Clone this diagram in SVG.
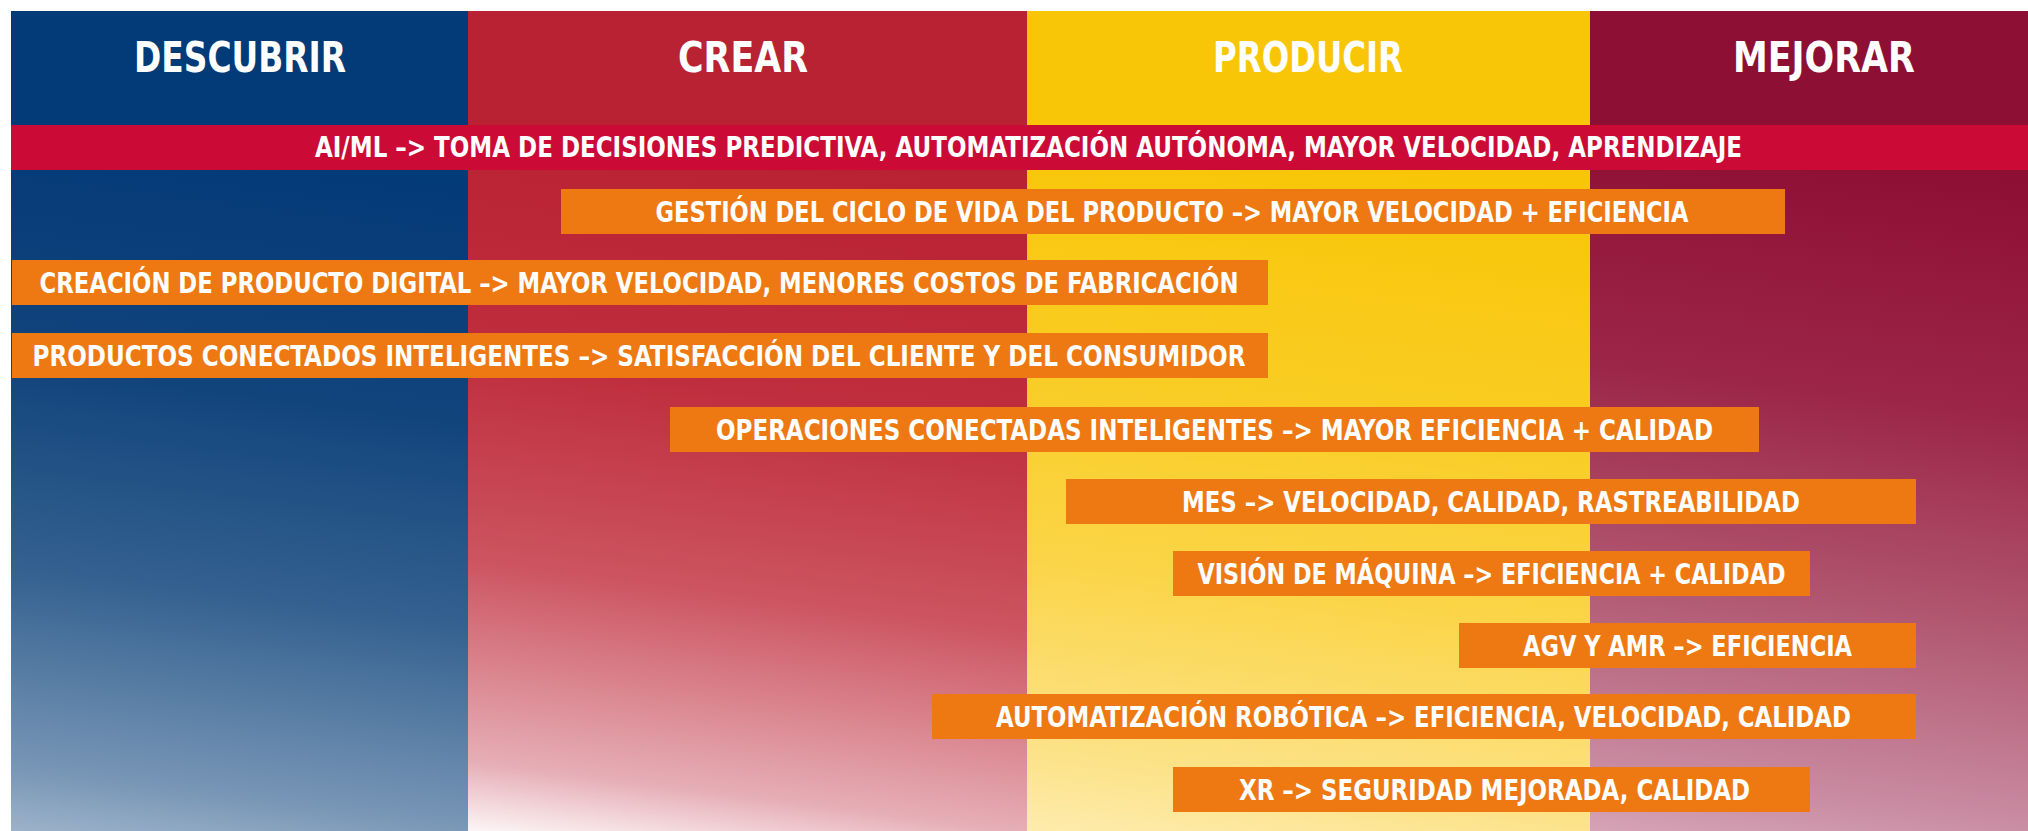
<svg xmlns="http://www.w3.org/2000/svg" width="2028" height="831" viewBox="0 0 2028 831">
  <defs>
    <linearGradient id="gBlue" gradientUnits="userSpaceOnUse" x1="285" y1="160" x2="195" y2="870">
      <stop offset="0" stop-color="#033A78"/>
      <stop offset="0.33" stop-color="#12447C"/>
      <stop offset="0.61" stop-color="#33608F"/>
      <stop offset="0.89" stop-color="#7896B6"/>
      <stop offset="1" stop-color="#A6B9CE"/>
    </linearGradient>
    <linearGradient id="gRed" gradientUnits="userSpaceOnUse" x1="792" y1="160" x2="702" y2="870">
      <stop offset="0" stop-color="#B92233"/>
      <stop offset="0.33" stop-color="#BF2E3E"/>
      <stop offset="0.61" stop-color="#CC5460"/>
      <stop offset="0.89" stop-color="#E6AEB6"/>
      <stop offset="1" stop-color="#FFFFFF"/>
    </linearGradient>
    <linearGradient id="gYellow" gradientUnits="userSpaceOnUse" x1="1353" y1="160" x2="1263" y2="870">
      <stop offset="0" stop-color="#F8C606"/>
      <stop offset="0.33" stop-color="#F9CC22"/>
      <stop offset="0.61" stop-color="#FBD548"/>
      <stop offset="0.89" stop-color="#FCE38C"/>
      <stop offset="1" stop-color="#FEEDB2"/>
    </linearGradient>
    <linearGradient id="gMaroon" gradientUnits="userSpaceOnUse" x1="1854" y1="160" x2="1764" y2="870">
      <stop offset="0" stop-color="#8E0F34"/>
      <stop offset="0.33" stop-color="#9C2648"/>
      <stop offset="0.61" stop-color="#B0556F"/>
      <stop offset="0.89" stop-color="#C98CA2"/>
      <stop offset="1" stop-color="#D9AABB"/>
    </linearGradient>
  </defs>
  <style>
    .bar { fill: #EE7812; }
    .ai { fill: #CB0A35; }
    .t { font-family: "Liberation Sans Narrow", "DejaVu Sans Condensed", "Roboto", "Liberation Sans", sans-serif; font-weight: 700; fill: #FFFFFF; text-anchor: middle; font-size: 28px; }
    .h { font-size: 42px; }
  </style>
  <rect x="0" y="0" width="2028" height="831" fill="#FFFFFF"/>

  <g id="columns">
    <rect x="11" y="11" width="457" height="820" fill="url(#gBlue)"/>
    <rect x="468" y="11" width="559" height="820" fill="url(#gRed)"/>
    <rect x="1027" y="11" width="563" height="820" fill="url(#gYellow)"/>
    <rect x="1590" y="11" width="438" height="820" fill="url(#gMaroon)"/>
  </g>

  <g id="headers">
    <g id="h-descubrir"><text class="t h" x="240" y="72" textLength="212" lengthAdjust="spacingAndGlyphs">DESCUBRIR</text></g>
    <g id="h-crear"><text class="t h" x="743" y="72" textLength="130" lengthAdjust="spacingAndGlyphs">CREAR</text></g>
    <g id="h-producir"><text class="t h" x="1308" y="72" textLength="190" lengthAdjust="spacingAndGlyphs">PRODUCIR</text></g>
    <g id="h-mejorar"><text class="t h" x="1824" y="72" textLength="182" lengthAdjust="spacingAndGlyphs">MEJORAR</text></g>
  </g>

  <g id="ai-ml">
    <rect class="ai" x="11" y="125" width="2017" height="45"/>
    <text class="t" x="1028.5" y="157" textLength="1427" lengthAdjust="spacingAndGlyphs">AI/ML –&gt; TOMA DE DECISIONES PREDICTIVA, AUTOMATIZACIÓN AUTÓNOMA, MAYOR VELOCIDAD, APRENDIZAJE</text>
  </g>

  <g id="plm">
    <rect class="bar" x="561" y="189" width="1224" height="45"/>
    <text class="t" x="1172" y="222" textLength="1033" lengthAdjust="spacingAndGlyphs">GESTIÓN DEL CICLO DE VIDA DEL PRODUCTO –&gt; MAYOR VELOCIDAD + EFICIENCIA</text>
  </g>

  <g id="digital">
    <rect class="bar" x="12" y="260" width="1256" height="45"/>
    <text class="t" x="639" y="293" textLength="1199" lengthAdjust="spacingAndGlyphs">CREACIÓN DE PRODUCTO DIGITAL –&gt; MAYOR VELOCIDAD, MENORES COSTOS DE FABRICACIÓN</text>
  </g>

  <g id="productos">
    <rect class="bar" x="12" y="333" width="1256" height="45"/>
    <text class="t" x="639" y="366" textLength="1213" lengthAdjust="spacingAndGlyphs">PRODUCTOS CONECTADOS INTELIGENTES –&gt; SATISFACCIÓN DEL CLIENTE Y DEL CONSUMIDOR</text>
  </g>

  <g id="operaciones">
    <rect class="bar" x="670" y="407" width="1089" height="45"/>
    <text class="t" x="1214.5" y="440" textLength="997" lengthAdjust="spacingAndGlyphs">OPERACIONES CONECTADAS INTELIGENTES –&gt; MAYOR EFICIENCIA + CALIDAD</text>
  </g>

  <g id="mes">
    <rect class="bar" x="1066" y="479" width="850" height="45"/>
    <text class="t" x="1491" y="512" textLength="618" lengthAdjust="spacingAndGlyphs">MES –&gt; VELOCIDAD, CALIDAD, RASTREABILIDAD</text>
  </g>

  <g id="vision">
    <rect class="bar" x="1173" y="551" width="637" height="45"/>
    <text class="t" x="1491.5" y="584" textLength="588" lengthAdjust="spacingAndGlyphs">VISIÓN DE MÁQUINA –&gt; EFICIENCIA + CALIDAD</text>
  </g>

  <g id="agv">
    <rect class="bar" x="1459" y="623" width="457" height="45"/>
    <text class="t" x="1687.5" y="656" textLength="329" lengthAdjust="spacingAndGlyphs">AGV Y AMR –&gt; EFICIENCIA</text>
  </g>

  <g id="robotica">
    <rect class="bar" x="932" y="694" width="984" height="45"/>
    <text class="t" x="1423.5" y="727" textLength="855" lengthAdjust="spacingAndGlyphs">AUTOMATIZACIÓN ROBÓTICA –&gt; EFICIENCIA, VELOCIDAD, CALIDAD</text>
  </g>

  <g id="xr">
    <rect class="bar" x="1173" y="767" width="637" height="45"/>
    <text class="t" x="1494.5" y="800" textLength="511" lengthAdjust="spacingAndGlyphs">XR –&gt; SEGURIDAD MEJORADA, CALIDAD</text>
  </g>

  <g id="connectors"/>
</svg>
